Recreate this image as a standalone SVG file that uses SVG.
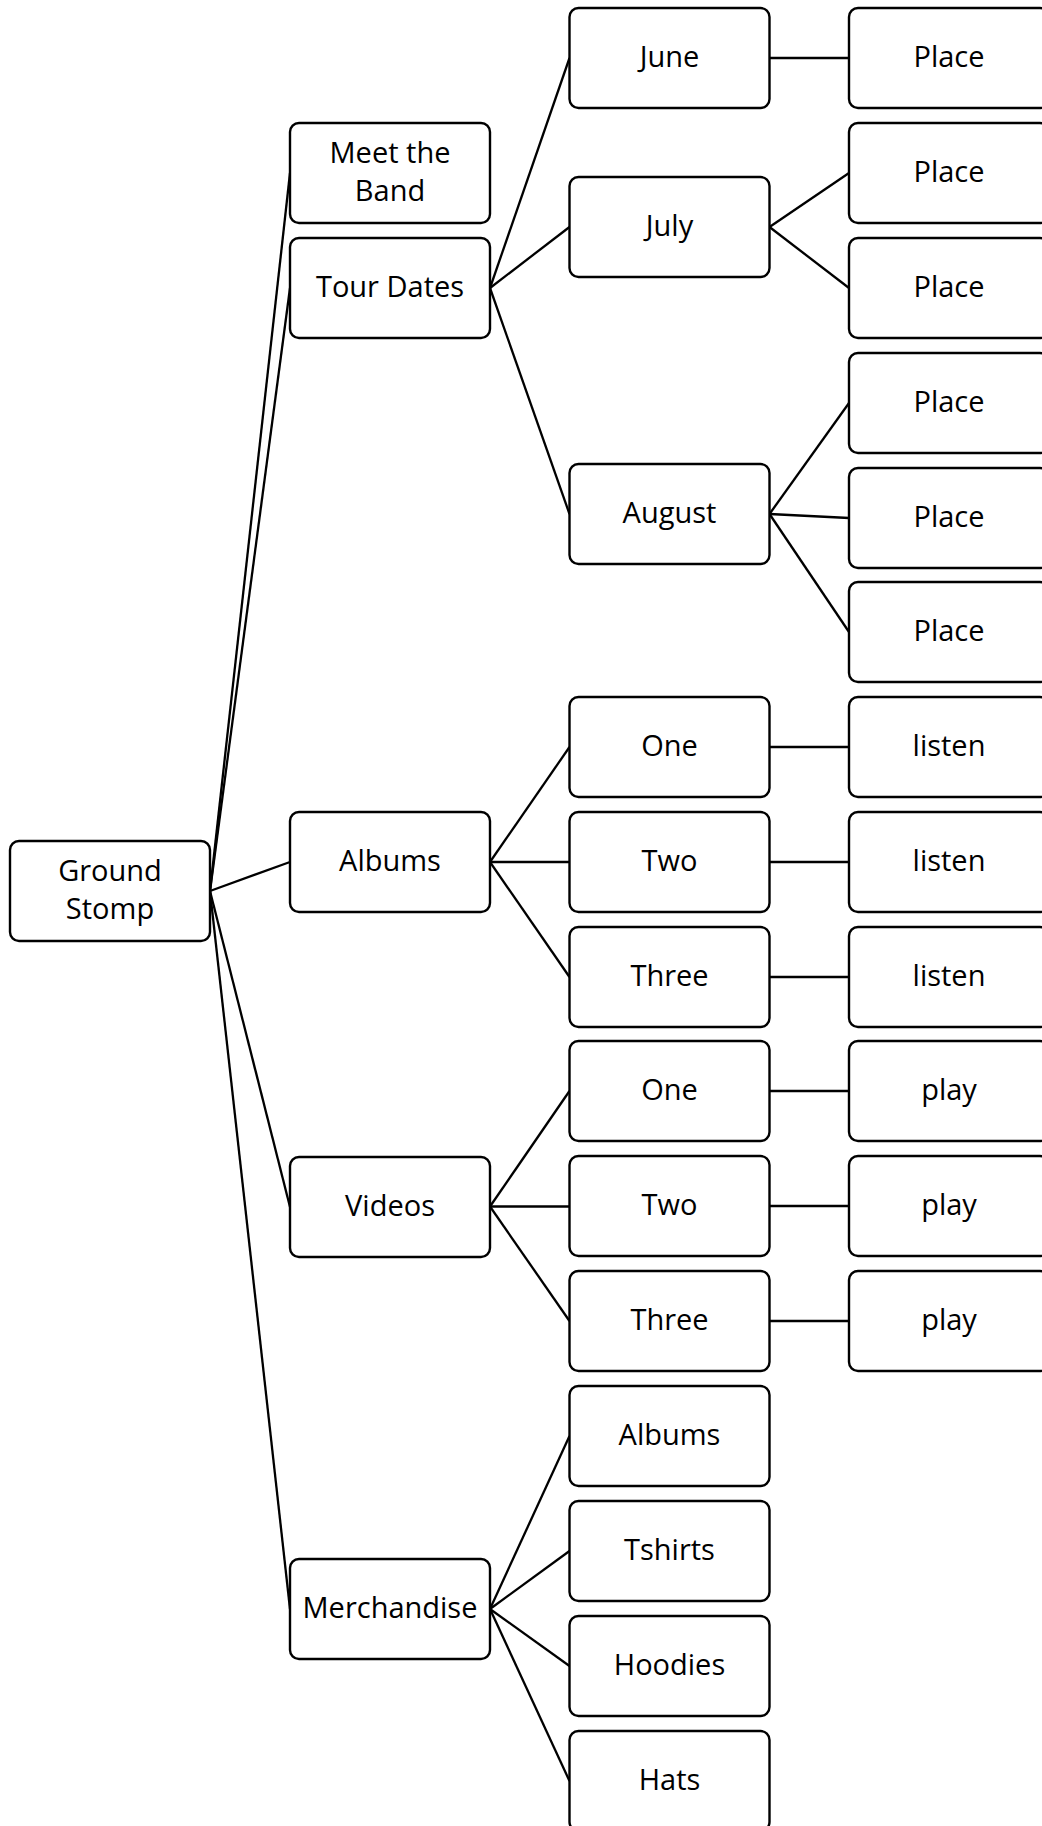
<svg xmlns="http://www.w3.org/2000/svg" width="1042" height="1826" viewBox="0 0 1042 1826">
<style>
rect.n{fill:#fff;stroke:#000;stroke-width:2.4}
text{font-family:"Open Sans","Noto Sans","Liberation Sans",sans-serif;font-size:29px;fill:#000;text-anchor:middle}
#connectors line{stroke:#000;stroke-width:2.3;fill:none}
</style>
<rect width="1042" height="1826" fill="#fff"/>
<g id="connectors">
<line x1="210" y1="891" x2="290" y2="173"/>
<line x1="210" y1="891" x2="290" y2="288"/>
<line x1="210" y1="891" x2="290" y2="862"/>
<line x1="210" y1="891" x2="290" y2="1207"/>
<line x1="210" y1="891" x2="290" y2="1609"/>
<line x1="490" y1="288" x2="569.5" y2="58"/>
<line x1="490" y1="288" x2="569.5" y2="227"/>
<line x1="490" y1="288" x2="569.5" y2="514"/>
<line x1="769.5" y1="58" x2="849" y2="58"/>
<line x1="769.5" y1="227" x2="849" y2="173"/>
<line x1="769.5" y1="227" x2="849" y2="288"/>
<line x1="769.5" y1="514" x2="849" y2="403"/>
<line x1="769.5" y1="514" x2="849" y2="518"/>
<line x1="769.5" y1="514" x2="849" y2="632"/>
<line x1="490" y1="862" x2="569.5" y2="747"/>
<line x1="490" y1="862" x2="569.5" y2="862"/>
<line x1="490" y1="862" x2="569.5" y2="977"/>
<line x1="769.5" y1="747" x2="849" y2="747"/>
<line x1="769.5" y1="862" x2="849" y2="862"/>
<line x1="769.5" y1="977" x2="849" y2="977"/>
<line x1="490" y1="1206.5" x2="569.5" y2="1091"/>
<line x1="490" y1="1206.5" x2="569.5" y2="1206.5"/>
<line x1="490" y1="1206.5" x2="569.5" y2="1321"/>
<line x1="769.5" y1="1091" x2="849" y2="1091"/>
<line x1="769.5" y1="1206" x2="849" y2="1206"/>
<line x1="769.5" y1="1321" x2="849" y2="1321"/>
<line x1="490" y1="1609" x2="569.5" y2="1436"/>
<line x1="490" y1="1609" x2="569.5" y2="1551"/>
<line x1="490" y1="1609" x2="569.5" y2="1666"/>
<line x1="490" y1="1609" x2="569.5" y2="1781"/>
</g>
<g id="ground-stomp"><rect class="n" x="10" y="841" width="200" height="100" rx="9"/><text x="110" y="881">Ground</text><text x="110" y="918.5">Stomp</text></g>
<g id="meet-the-band"><rect class="n" x="290" y="123" width="200" height="100" rx="9"/><text x="390" y="163">Meet the</text><text x="390" y="200.5">Band</text></g>
<g id="tour-dates"><rect class="n" x="290" y="238" width="200" height="100" rx="9"/><text x="390" y="296.5">Tour Dates</text></g>
<g id="albums"><rect class="n" x="290" y="812" width="200" height="100" rx="9"/><text x="390" y="870.5">Albums</text></g>
<g id="videos"><rect class="n" x="290" y="1157" width="200" height="100" rx="9"/><text x="390" y="1215.5">Videos</text></g>
<g id="merchandise"><rect class="n" x="290" y="1559" width="200" height="100" rx="9"/><text x="390" y="1617.5">Merchandise</text></g>
<g id="june"><rect class="n" x="569.5" y="8" width="200" height="100" rx="9"/><text x="669.5" y="66.5">June</text></g>
<g id="july"><rect class="n" x="569.5" y="177" width="200" height="100" rx="9"/><text x="669.5" y="235.5">July</text></g>
<g id="august"><rect class="n" x="569.5" y="464" width="200" height="100" rx="9"/><text x="669.5" y="522.5">August</text></g>
<g id="album-one"><rect class="n" x="569.5" y="697" width="200" height="100" rx="9"/><text x="669.5" y="755.5">One</text></g>
<g id="album-two"><rect class="n" x="569.5" y="812" width="200" height="100" rx="9"/><text x="669.5" y="870.5">Two</text></g>
<g id="album-three"><rect class="n" x="569.5" y="927" width="200" height="100" rx="9"/><text x="669.5" y="985.5">Three</text></g>
<g id="video-one"><rect class="n" x="569.5" y="1041" width="200" height="100" rx="9"/><text x="669.5" y="1099.5">One</text></g>
<g id="video-two"><rect class="n" x="569.5" y="1156" width="200" height="100" rx="9"/><text x="669.5" y="1214.5">Two</text></g>
<g id="video-three"><rect class="n" x="569.5" y="1271" width="200" height="100" rx="9"/><text x="669.5" y="1329.5">Three</text></g>
<g id="merch-albums"><rect class="n" x="569.5" y="1386" width="200" height="100" rx="9"/><text x="669.5" y="1444.5">Albums</text></g>
<g id="merch-tshirts"><rect class="n" x="569.5" y="1501" width="200" height="100" rx="9"/><text x="669.5" y="1559.5">Tshirts</text></g>
<g id="merch-hoodies"><rect class="n" x="569.5" y="1616" width="200" height="100" rx="9"/><text x="669.5" y="1674.5">Hoodies</text></g>
<g id="merch-hats"><rect class="n" x="569.5" y="1731" width="200" height="100" rx="9"/><text x="669.5" y="1789.5">Hats</text></g>
<g id="june-place"><rect class="n" x="849" y="8" width="200" height="100" rx="9"/><text x="949" y="66.5">Place</text></g>
<g id="july-place-1"><rect class="n" x="849" y="123" width="200" height="100" rx="9"/><text x="949" y="181.5">Place</text></g>
<g id="july-place-2"><rect class="n" x="849" y="238" width="200" height="100" rx="9"/><text x="949" y="296.5">Place</text></g>
<g id="august-place-1"><rect class="n" x="849" y="353" width="200" height="100" rx="9"/><text x="949" y="411.5">Place</text></g>
<g id="august-place-2"><rect class="n" x="849" y="468" width="200" height="100" rx="9"/><text x="949" y="526.5">Place</text></g>
<g id="august-place-3"><rect class="n" x="849" y="582" width="200" height="100" rx="9"/><text x="949" y="640.5">Place</text></g>
<g id="listen-one"><rect class="n" x="849" y="697" width="200" height="100" rx="9"/><text x="949" y="755.5">listen</text></g>
<g id="listen-two"><rect class="n" x="849" y="812" width="200" height="100" rx="9"/><text x="949" y="870.5">listen</text></g>
<g id="listen-three"><rect class="n" x="849" y="927" width="200" height="100" rx="9"/><text x="949" y="985.5">listen</text></g>
<g id="play-one"><rect class="n" x="849" y="1041" width="200" height="100" rx="9"/><text x="949" y="1099.5">play</text></g>
<g id="play-two"><rect class="n" x="849" y="1156" width="200" height="100" rx="9"/><text x="949" y="1214.5">play</text></g>
<g id="play-three"><rect class="n" x="849" y="1271" width="200" height="100" rx="9"/><text x="949" y="1329.5">play</text></g>
</svg>
